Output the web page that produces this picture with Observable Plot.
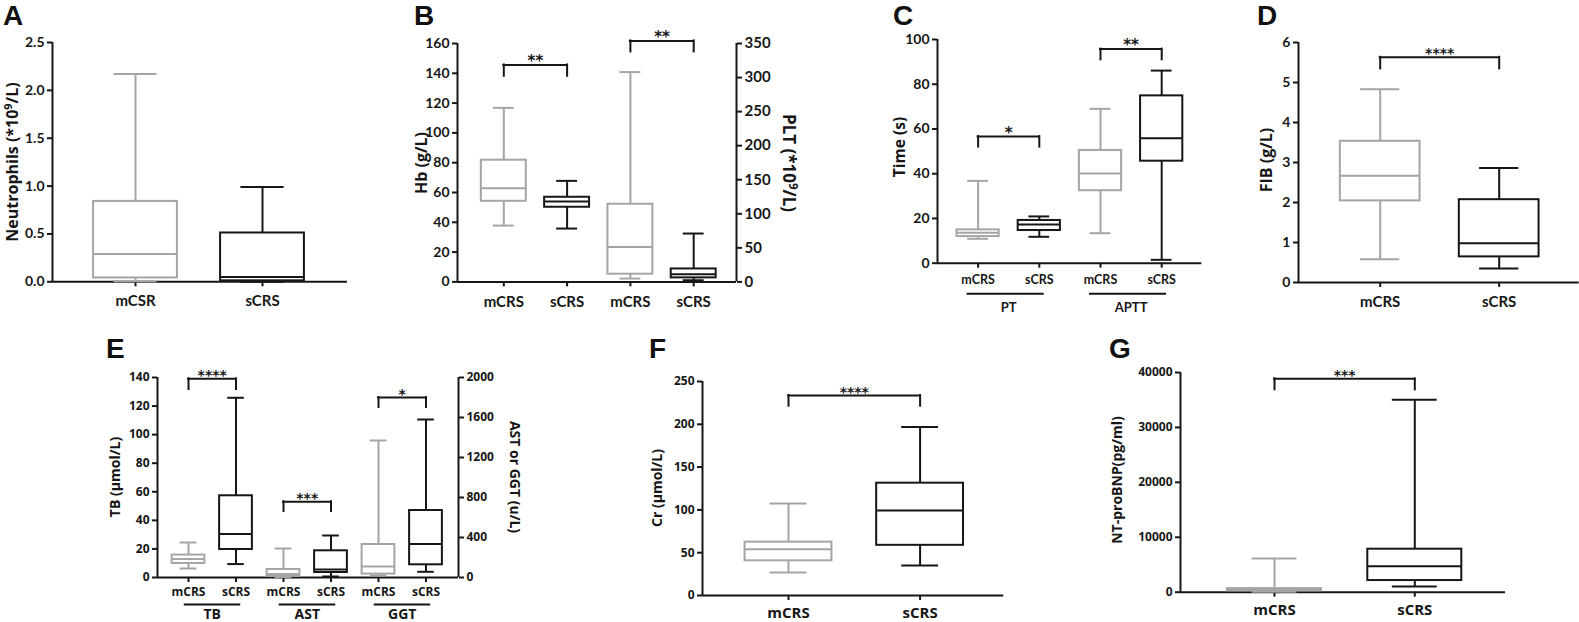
<!DOCTYPE html>
<html><head><meta charset="utf-8">
<script src="https://cdn.jsdelivr.net/npm/d3@7"></script>
<script src="https://cdn.jsdelivr.net/npm/@observablehq/plot@0.6"></script>
<style>
body{margin:0;background:#fff;}
#root{position:relative;width:1579px;height:622px;overflow:hidden;background:#fff;}
#root svg{position:absolute;overflow:visible;background:transparent;}
.ylab{position:absolute;font-family:"Open Sans",sans-serif;font-weight:700;white-space:nowrap;color:#161616;line-height:1;}
.ylab sup{font-size:0.68em;vertical-align:0.55em;line-height:0;}
.letter{position:absolute;font-family:"Liberation Sans",Arial,sans-serif;font-weight:700;font-size:28px;line-height:1;color:#111;}
</style></head><body><div id="root"></div>
<script>
// ---------------- data: box statistics [min, q1, median, q3, max] ----------------
const labelsA = ["mCSR", "sCRS"];
const neutrophils_mCSR = [0.005, 0.04, 0.29, 0.84, 2.17];
const neutrophils_sCRS = [0.0, 0.01, 0.05, 0.51, 0.99];

const labelsB = ["mCRS", "sCRS", "mCRS", "sCRS"];
const hb_mCRS = [37.8, 54.1, 62.8, 81.7, 116.8];
const hb_sCRS = [35.8, 50.1, 53.9, 56.8, 67.8];
const plt_mCRS = [4.9, 11.3, 51.4, 114, 308];
const plt_sCRS = [2.4, 5.9, 11.3, 19, 71];

const labelsC = ["mCRS", "sCRS", "mCRS", "sCRS"];
const groupsC = ["PT", "APTT"];
const pt_mCRS = [10.9, 11.9, 13.6, 14.9, 36.8];
const pt_sCRS = [11.8, 14.6, 17.3, 19.1, 20.9];
const aptt_mCRS = [13.4, 32.4, 40.1, 50.4, 69.0];
const aptt_sCRS = [1.5, 45.6, 55.9, 74.8, 86.1];

const labelsD = ["mCRS", "sCRS"];
const fib_mCRS = [0.58, 2.04, 2.67, 3.53, 4.83];
const fib_sCRS = [0.35, 0.64, 0.98, 2.07, 2.86];

const labelsE = ["mCRS", "sCRS", "mCRS", "sCRS", "mCRS", "sCRS"];
const groupsE = ["TB", "AST", "GGT"];
const tb_mCRS = [6.3, 9.8, 12.9, 15.7, 24.5];
const tb_sCRS = [9.4, 19.6, 30.4, 57.2, 125.8];
const ast_mCRS = [5, 10, 34, 80, 290];
const ast_sCRS = [10, 50, 80, 267, 420];
const ggt_mCRS = [20, 34, 110, 330, 1370];
const ggt_sCRS = [57, 127, 334, 670, 1580];

const labelsF = ["mCRS", "sCRS"];
const cr_mCRS = [26.9, 40.5, 54.1, 62.3, 107.5];
const cr_sCRS = [35.0, 58.6, 99.2, 131.2, 196.7];

const labelsG = ["mCRS", "sCRS"];
const bnp_mCRS = [100, 250, 450, 650, 6130];
const bnp_sCRS = [1030, 2120, 4730, 7830, 35020];

// significance brackets: [from index, to index, bracket top, leg end, label]
const sigB_left = [[0, 1, 145.6, 138, "**"]];
const sigB_right = [[2, 3, 353.8, 337.6, "**"]];
const sigC = [[0, 1, 56.6, 51.9, "*"], [2, 3, 95.7, 90.9, "**"]];
const sigD = [[0, 1, 5.63, 5.34, "****"]];
const sigE_left = [[0, 1, 139.1, 131.6, "****"]];
const sigE_right = [[2, 3, 757, 660, "***"], [4, 5, 1800, 1700, "*"]];
const sigF = [[0, 1, 233.6, 221.1, "****"]];
const sigG = [[0, 1, 38850, 36850, "***"]];

// y ticks
const ticksA = [0, 0.5, 1, 1.5, 2, 2.5];
const ticksB = [0, 20, 40, 60, 80, 100, 120, 140, 160];
const ticksB2 = [0, 50, 100, 150, 200, 250, 300, 350];
const ticksC = [0, 20, 40, 60, 80, 100];
const ticksD = [0, 1, 2, 3, 4, 5, 6];
const ticksE = [0, 20, 40, 60, 80, 100, 120, 140];
const ticksE2 = [0, 400, 800, 1200, 1600, 2000];
const ticksF = [0, 50, 100, 150, 200, 250];
const ticksG = [0, 10000, 20000, 30000, 40000];

// ---------------- drawing ----------------
const GRAY = "#a5a5a5", BLACK = "#161616";
const root = document.getElementById("root");
const st = (arr, i) => ({i, min: arr[0], q1: arr[1], med: arr[2], q3: arr[3], max: arr[4]});
const br = (a) => ({a: a[0], b: a[1], top: a[2], leg: a[3], label: a[4]});
const plain = d => String(d);

function boxes(list, color, boxW, capW) {
  const o = {stroke: color, strokeWidth: 2};
  return [
    Plot.ruleX(list, {x: "i", y1: "min", y2: "q1", ...o}),
    Plot.ruleX(list, {x: "i", y1: "q3", y2: "max", ...o}),
    Plot.ruleY(list, {y: "min", x1: d => d.i - capW / 2, x2: d => d.i + capW / 2, ...o}),
    Plot.ruleY(list, {y: "max", x1: d => d.i - capW / 2, x2: d => d.i + capW / 2, ...o}),
    Plot.rect(list, {x1: d => d.i - boxW / 2, x2: d => d.i + boxW / 2, y1: "q1", y2: "q3", fill: "none", ...o}),
    Plot.ruleY(list, {y: "med", x1: d => d.i - boxW / 2, x2: d => d.i + boxW / 2, ...o})
  ];
}
function brackets(list, fs) {
  const o = {stroke: BLACK, strokeWidth: 2, strokeLinecap: "square"};
  return [
    Plot.ruleY(list, {y: "top", x1: "a", x2: "b", ...o}),
    Plot.ruleX(list, {x: "a", y1: "leg", y2: "top", ...o}),
    Plot.ruleX(list, {x: "b", y1: "leg", y2: "top", ...o}),
    Plot.text(list, {x: d => (d.a + d.b) / 2, y: "top", text: "label", lineAnchor: "bottom", dy: 1, fontSize: fs, fontFamily: "'DejaVu Sans', sans-serif", fontWeight: "700", fill: BLACK})
  ];
}

function panel(cfg) {
  const ml = 55, mr = cfg.right ? 60 : 12, mt = 45, mb = 50;
  const lo = (cfg.xL - cfg.c0) / cfg.step, hi = (cfg.xR - cfg.c0) / cfg.step;
  const W = cfg.xR - cfg.xL + ml + mr, H = cfg.yB - cfg.yT + mt + mb;
  const common = {
    width: W, height: H, marginLeft: ml, marginRight: mr, marginTop: mt, marginBottom: mb,
    x: {type: "linear", domain: [lo, hi], axis: null},
    style: {fontFamily: cfg.font, fontWeight: "700", background: "transparent", overflow: "visible", color: BLACK}
  };
  const idx = cfg.labels.map((_, i) => i);
  const left = cfg.series.filter((_, i) => !cfg.rightIdx || !cfg.rightIdx.includes(i));
  const leftStats = left.map(s => st(s.v, s.i));
  const marks = [
    Plot.axisY({anchor: "left", ticks: cfg.ticks, tickFormat: cfg.fmt || plain, tickSize: 5, tickPadding: 3,
      fontSize: cfg.tfs, fontWeight: "700", strokeWidth: 2, label: null}),
    Plot.axisX({ticks: idx, tickFormat: i => cfg.labels[i], tickSize: 5, tickPadding: cfg.xpad,
      fontSize: cfg.xfs, fontWeight: "700", strokeWidth: 2, label: null}),
    Plot.ruleX([lo], {y1: 0, y2: cfg.ymax, stroke: BLACK, strokeWidth: 2}),
    Plot.ruleY([0], {x1: lo, x2: hi, stroke: BLACK, strokeWidth: 2}),
    ...boxes(leftStats.filter(d => d.i % 2 === 0), GRAY, cfg.boxW, cfg.capW),
    ...boxes(leftStats.filter(d => d.i % 2 === 1), BLACK, cfg.boxW, cfg.capW),
    ...brackets(cfg.sig.map(br), cfg.sfs)
  ];
  if (cfg.groups) {
    const g = cfg.groups.map((name, k) => ({k, name, a: 2 * k, b: 2 * k + 1}));
    marks.push(Plot.ruleY(g, {y: () => 0, x1: d => d.a - cfg.ul[0], x2: d => d.b + cfg.ul[1], dy: cfg.uly, stroke: BLACK, strokeWidth: 2}));
    marks.push(Plot.text(g, {x: d => (d.a + d.b) / 2, y: () => 0, text: "name", dy: cfg.gly, fontSize: cfg.gfs, fontWeight: "700", fill: BLACK}));
  }
  const svg = Plot.plot({...common, y: {domain: [0, cfg.ymax], axis: null}, marks});
  svg.style.left = (cfg.xL - ml) + "px";
  svg.style.top = (cfg.yT - mt) + "px";
  root.appendChild(svg);
  if (cfg.right) {
    const rs = cfg.series.filter((_, i) => cfg.rightIdx.includes(i)).map(s => st(s.v, s.i));
    const svg2 = Plot.plot({...common, y: {domain: [0, cfg.right.ymax], axis: null}, marks: [
      Plot.axisY({anchor: "right", ticks: cfg.right.ticks, tickFormat: plain, tickSize: 5, tickPadding: 3,
        fontSize: cfg.right.tfs, fontWeight: "700", strokeWidth: 2, label: null}),
      Plot.ruleX([hi], {y1: 0, y2: cfg.right.ymax, stroke: BLACK, strokeWidth: 2}),
      ...boxes(rs.filter(d => d.i % 2 === 0), GRAY, cfg.boxW, cfg.capW),
      ...boxes(rs.filter(d => d.i % 2 === 1), BLACK, cfg.boxW, cfg.capW),
      ...brackets(cfg.right.sig.map(br), cfg.sfs)
    ]});
    svg2.style.left = (cfg.xL - ml) + "px";
    svg2.style.top = (cfg.yT - mt) + "px";
    root.appendChild(svg2);
  }
}

const TOPFONT = "Lato, 'Open Sans', sans-serif";
const BOTFONT = "'Open Sans', sans-serif";

panel({xL: 52, xR: 347, yT: 41.7, yB: 281, c0: 135, step: 127, ymax: 2.5, ticks: ticksA, fmt: d => d.toFixed(1),
  labels: labelsA, series: [{i: 0, v: neutrophils_mCSR}, {i: 1, v: neutrophils_sCRS}], sig: [],
  boxW: 0.66, capW: 0.34, tfs: 14, xfs: 15, xpad: 9, sfs: 15, font: TOPFONT});

panel({xL: 457, xR: 736, yT: 43.3, yB: 281.7, c0: 503.3, step: 63.3, ymax: 160, ticks: ticksB,
  labels: labelsB, series: [{i: 0, v: hb_mCRS}, {i: 1, v: hb_sCRS}, {i: 2, v: plt_mCRS}, {i: 3, v: plt_sCRS}],
  rightIdx: [2, 3], sig: sigB_left,
  right: {ymax: 350, ticks: ticksB2, sig: sigB_right, tfs: 15},
  boxW: 0.71, capW: 0.33, tfs: 14, xfs: 15, xpad: 9, sfs: 15, font: TOPFONT});

panel({xL: 936.7, xR: 1201, yT: 39, yB: 262.7, c0: 977.3, step: 61.2, ymax: 100, ticks: ticksC,
  labels: labelsC, series: [{i: 0, v: pt_mCRS}, {i: 1, v: pt_sCRS}, {i: 2, v: aptt_mCRS}, {i: 3, v: aptt_sCRS}],
  sig: sigC, groups: groupsC, ul: [0.18, 0.08], uly: 30.5, gly: 45, gfs: 13,
  boxW: 0.69, capW: 0.34, tfs: 14, xfs: 12.5, xpad: 7, sfs: 15, font: TOPFONT});

panel({xL: 1298.3, xR: 1579, yT: 41.7, yB: 281.7, c0: 1380, step: 119, ymax: 6, ticks: ticksD,
  labels: labelsD, series: [{i: 0, v: fib_mCRS}, {i: 1, v: fib_sCRS}], sig: sigD,
  boxW: 0.67, capW: 0.33, tfs: 14, xfs: 15, xpad: 9, sfs: 14, font: TOPFONT});

panel({xL: 157.3, xR: 458.3, yT: 376.7, yB: 576.7, c0: 188.3, step: 47.5, ymax: 140, ticks: ticksE,
  labels: labelsE, series: [{i: 0, v: tb_mCRS}, {i: 1, v: tb_sCRS}, {i: 2, v: ast_mCRS}, {i: 3, v: ast_sCRS}, {i: 4, v: ggt_mCRS}, {i: 5, v: ggt_sCRS}],
  rightIdx: [2, 3, 4, 5], sig: sigE_left, groups: groupsE, ul: [0.09, 0.1], uly: 27, gly: 37, gfs: 14,
  right: {ymax: 2000, ticks: ticksE2, sig: sigE_right, tfs: 12},
  boxW: 0.69, capW: 0.35, tfs: 12, xfs: 12, xpad: 5, sfs: 14, font: BOTFONT});

panel({xL: 701.7, xR: 1003, yT: 381, yB: 595, c0: 787.7, step: 131.6, ymax: 250, ticks: ticksF,
  labels: labelsF, series: [{i: 0, v: cr_mCRS}, {i: 1, v: cr_sCRS}], sig: sigF,
  boxW: 0.66, capW: 0.28, tfs: 12, xfs: 15, xpad: 7, sfs: 14, font: BOTFONT});

panel({xL: 1180, xR: 1505, yT: 372, yB: 591.7, c0: 1274, step: 140.3, ymax: 40000, ticks: ticksG,
  labels: labelsG, series: [{i: 0, v: bnp_mCRS}, {i: 1, v: bnp_sCRS}], sig: sigG,
  boxW: 0.67, capW: 0.32, tfs: 12, xfs: 15, xpad: 7, sfs: 14, font: BOTFONT});

// axis titles (HTML text, rotated)
const ylabels = [
  {html: "Neutrophils (*10<sup>9</sup>/L)", cx: 12, cy: 162, rot: -90, fs: 16},
  {html: "Hb (g/L)", cx: 421, cy: 163, rot: -90, fs: 16},
  {html: "PLT (*10<sup>9</sup>/L)", cx: 789, cy: 163, rot: 90, fs: 17},
  {html: "Time (s)", cx: 900, cy: 147, rot: -90, fs: 15.5},
  {html: "FIB (g/L)", cx: 1266, cy: 160, rot: -90, fs: 16},
  {html: "TB (μmol/L)", cx: 115, cy: 477, rot: -90, fs: 14},
  {html: "AST or GGT (u/L)", cx: 515, cy: 477, rot: 90, fs: 14},
  {html: "Cr (μmol/L)", cx: 657, cy: 488, rot: -90, fs: 14},
  {html: "NT-proBNP(pg/ml)", cx: 1117, cy: 480, rot: -90, fs: 14}
];
for (const l of ylabels) {
  const d = document.createElement("div");
  d.className = "ylab";
  d.innerHTML = l.html;
  d.style.fontSize = l.fs + "px";
  d.style.left = l.cx + "px";
  d.style.top = l.cy + "px";
  d.style.transform = `translate(-50%,-50%) rotate(${l.rot}deg)`;
  root.appendChild(d);
}
const letters = [["A", 3, 2], ["B", 414, 2], ["C", 893, 2], ["D", 1257, 2], ["E", 106, 335], ["F", 649, 335], ["G", 1109, 335]];
for (const [t, x, y] of letters) {
  const d = document.createElement("div");
  d.className = "letter";
  d.textContent = t;
  d.style.left = x + "px";
  d.style.top = y + "px";
  root.appendChild(d);
}
</script></body></html>
